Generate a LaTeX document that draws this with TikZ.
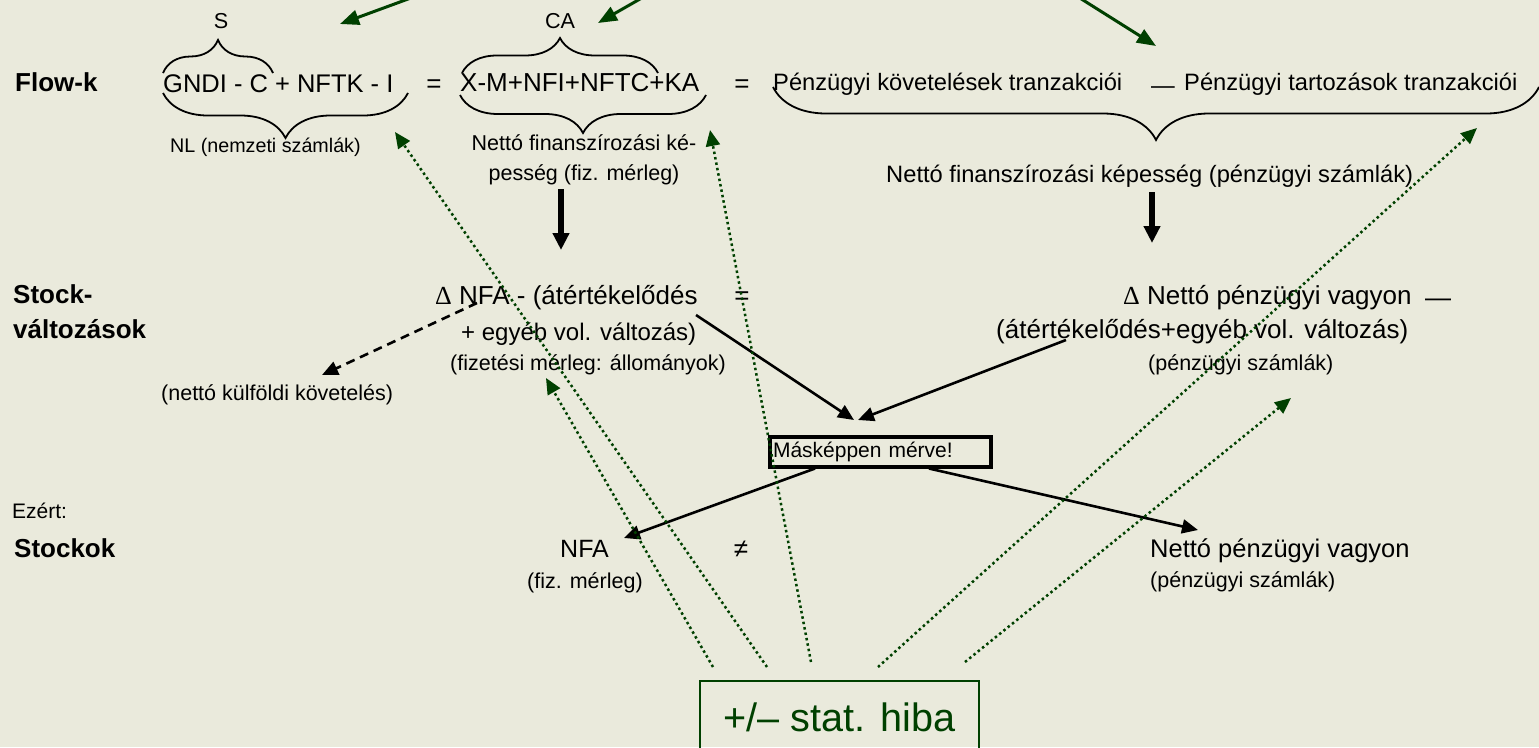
\documentclass[tikz,border=0pt]{standalone}
\usepackage{fontspec}
\setmainfont{Liberation Sans}
\newfontfamily\symfont{Liberation Serif}
\usepackage{tikz}
\usetikzlibrary{arrows.meta,calc,decorations.pathreplacing}
\definecolor{bgcol}{RGB}{234,234,220}
\definecolor{dkgreen}{RGB}{0,64,0}
\newcommand{\fsz}[1]{\fontsize{#1}{#1}\selectfont}

\begin{document}
\begin{tikzpicture}[x=1pt,y=-1pt,
    txt/.style={inner sep=0pt,anchor=base west},
    ctxt/.style={inner sep=0pt,anchor=base},
    fbig/.style={font=\fsz{26}},
    fmid/.style={font=\fsz{23.7}},
    fsmall/.style={font=\fsz{21.5}},
    rowlbl/.style={txt,font=\fsz{26}\bfseries},
    brc/.style={decorate,decoration={brace,amplitude=#1},line width=1.8pt},
    blkarr/.style={-{Triangle[length=16pt,width=14pt]},line width=2.6pt},
    thickarr/.style={-{Triangle[length=17pt,width=16pt]},line width=6pt},
    grnarr/.style={-{Triangle[length=19pt,width=15pt]},line width=3pt,dkgreen},
    dotarr/.style={-{Triangle[length=16pt,width=14pt]},line width=2.5pt,dkgreen,dash pattern=on 2.5pt off 3pt},
    diffbox/.style={draw,line width=4pt,anchor=west,inner xsep=3pt,inner ysep=0pt,text width=215pt,minimum height=30pt,align=left,font=\fsz{21}},
    hibabox/.style={draw=dkgreen,line width=2pt,anchor=north,minimum width=279pt,minimum height=72pt,text=dkgreen,font=\fsz{39.6}}]

    % Background
    \useasboundingbox (0,0) rectangle (1539,747);
    \fill[bgcol] (0,0) rectangle (1539,747);
    \clip (0,0) rectangle (1539,747);

    % Flow row
    \node[rowlbl] (flowk) at (15,91) {Flow-k};
    \node[txt,font=\fsz{25.5}] (gndi) at (163,92) {GNDI - C + NFTK - I};
    \node[ctxt,fbig] (eqa) at (434,92) {=};
    \node[txt,fbig] (xm) at (460,91) {X-M+NFI+NFTC+KA};
    \node[ctxt,fbig] (eqb) at (742,92) {=};
    \node[txt,fmid] (kov) at (773,90) {Pénzügyi követelések tranzakciói};
    \node[ctxt,fmid] (mina) at (1163,93) {—};
    \node[txt,fmid] (tart) at (1184,90) {Pénzügyi tartozások tranzakciói};

    \node[ctxt,font=\fsz{21.6}] (s) at (221,28) {S};
    \node[ctxt,font=\fsz{21.6}] (ca) at (560,28) {CA};
    \node[txt,font=\fsz{19.7}] (nl) at (170,152) {NL (nemzeti számlák)};
    \node[ctxt,fsmall] (nfka) at (584,150) {Nettó finanszírozási ké-};
    \node[ctxt,fsmall] (nfkb) at (584,180) {pesség (fiz. mérleg)};
    \node[txt,fmid] (nfkp) at (886,182) {Nettó finanszírozási képesség (pénzügyi számlák)};

    % Braces
    \draw[brc=33pt] (163,73) -- (273,73);
    \draw[brc=35pt] (462,73) -- (658,73);
    \draw[brc=45pt] (408,93) -- (163,93);
    \draw[brc=38pt] (706,95) -- (460,95);
    \draw[brc=53pt] (1539,87) -- (773,87);

    % Stock change row
    \node[rowlbl] (stocka) at (13,303) {Stock-};
    \node[rowlbl] (stockb) at (13,338) {változások};
    \node[txt,fbig] (dnfa) at (435,304) {{\symfont Δ} NFA - (átértékelődés};
    \node[ctxt,fbig] (eqc) at (742,304) {=};
    \node[txt,font=\fsz{24}] (egyeb) at (461,340) {+ egyéb vol. változás)};
    \node[txt,fsmall] (fizall) at (450,370) {(fizetési mérleg: állományok)};
    \node[txt,fsmall] (kulf) at (161,400) {(nettó külföldi követelés)};
    \node[txt,fbig] (dnpv) at (1123,304) {{\symfont Δ} Nettó pénzügyi vagyon};
    \node[ctxt,fbig] (minb) at (1438,306) {—};
    \node[txt,fbig] (atert) at (996,338) {(átértékelődés+egyéb vol. változás)};
    \node[txt,fsmall] (pszla) at (1148,370) {(pénzügyi számlák)};

    \node[diffbox] (diff) at (768,451.5) {Másképpen mérve!};

    % Stock row
    \node[txt,font=\fsz{21}] (ezert) at (12,518) {Ezért:};
    \node[rowlbl] (stockok) at (14,557) {Stockok};
    \node[txt,font=\fsz{25}] (nfa) at (560,557) {NFA};
    \node[txt,fsmall] (fizm) at (527,588) {(fiz. mérleg)};
    \node[ctxt,fbig] (neq) at (741,557) {≠};
    \node[txt,font=\fsz{25.5}] (npv) at (1150,557) {Nettó pénzügyi vagyon};
    \node[txt,fsmall] (pszlb) at (1150,587) {(pénzügyi számlák)};

    \node[hibabox] (hiba) at (839.5,680) {+/– stat. hiba};

    % Free ends
    \coordinate (gas) at (419,-5);   \coordinate (gae) at (340,24);
    \coordinate (gbs) at (647,-5);   \coordinate (gbe) at (598,23);
    \coordinate (gcs) at (1075,-5);  \coordinate (gce) at (1156,46);
    \coordinate (downa) at (561,189); \coordinate (downae) at (561,250);
    \coordinate (downb) at (1152,192); \coordinate (downbe) at (1152,243);
    \coordinate (fromnfa) at (696,315);
    \coordinate (fromnpv) at (1066,340);
    \coordinate (meet) at (856,420);
    \coordinate (tonfa) at (624,538);
    \coordinate (tonpv) at (1198,530);
    \coordinate (dashs) at (477,303); \coordinate (dashe) at (322,375);
    \coordinate (tofiz) at (546,378);
    \coordinate (tonl) at (395,132);
    \coordinate (toka) at (710,130);
    \coordinate (totart) at (1477,128);
    \coordinate (topsz) at (1291,398);

    % Green arrows from above
    \draw[grnarr] (gas) -- (gae);
    \draw[grnarr] (gbs) -- (gbe);
    \draw[grnarr] (gcs) -- (gce);

    % Black arrows
    \draw[thickarr] (downa) -- (downae);
    \draw[thickarr] (downb) -- (downbe);
    \draw[blkarr] (fromnfa) -- ($(meet)+(-2,0)$);
    \draw[blkarr] (fromnpv) -- ($(meet)+(2,0)$);
    \draw[blkarr] ($(diff.south west)+(47,0)$) -- (tonfa);
    \draw[blkarr] ($(diff.south west)+(161,0)$) -- (tonpv);
    \draw[blkarr,dash pattern=on 9pt off 6pt] (dashs) -- (dashe);

    % Dotted arrows from stat. hiba
    \draw[dotarr] ($(hiba.north west)+(14,-13)$) -- (tofiz);
    \draw[dotarr] ($(hiba.north west)+(68,-13)$) -- (tonl);
    \draw[dotarr] ($(hiba.north west)+(112,-18)$) -- (toka);
    \draw[dotarr] ($(hiba.north west)+(179,-13)$) -- (totart);
    \draw[dotarr] ($(hiba.north west)+(266,-18)$) -- (topsz);

\end{tikzpicture}
\end{document}
